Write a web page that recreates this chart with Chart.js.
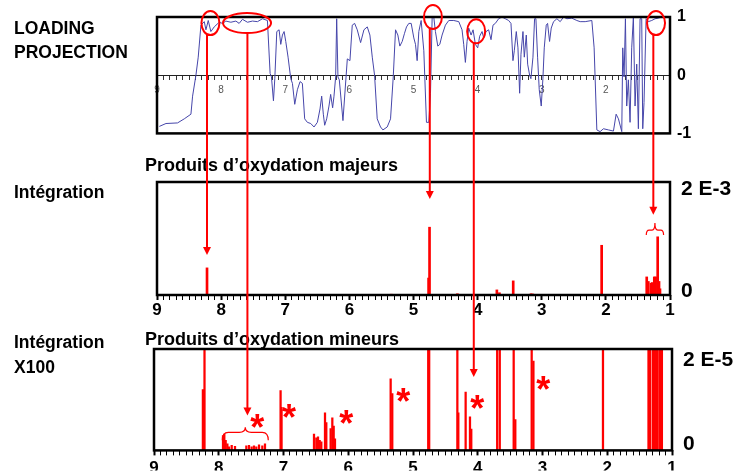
<!DOCTYPE html>
<html>
<head>
<meta charset="utf-8">
<script src="https://cdn.jsdelivr.net/npm/chart.js@4.4.1/dist/chart.umd.min.js"></script>
<style>
  html, body { margin: 0; padding: 0; background: #fff; }
  #wrap { position: relative; width: 742px; height: 474px; overflow: hidden;
          font-family: "Liberation Sans", Arial, sans-serif; font-weight: bold; color: #000; }
  #wrap canvas { position: absolute; left: 0; }
  .lbl { position: absolute; white-space: nowrap; line-height: 1; }
  .side { font-size: 17.5px; left: 14px; }
  .title { font-size: 18px; left: 145px; }
</style>
</head>
<body>
<div id="wrap">
  <canvas id="c1" width="742" height="150" style="top:0"></canvas>
  <canvas id="c2" width="742" height="170" style="top:150px"></canvas>
  <canvas id="c3" width="742" height="154" style="top:320px"></canvas>

  <div class="lbl side" style="top:20.2px">LOADING</div>
  <div class="lbl side" style="top:43.5px">PROJECTION</div>
  <div class="lbl side" style="top:183.5px">Intégration</div>
  <div class="lbl side" style="top:333.5px">Intégration</div>
  <div class="lbl side" style="top:358.5px">X100</div>
  <div class="lbl title" style="top:155.8px">Produits d’oxydation majeurs</div>
  <div class="lbl title" style="top:330.3px">Produits d’oxydation mineurs</div>

  <canvas id="ov" width="742" height="474" style="top:0"></canvas>
</div>

<script>
// ---- Loading projection (chemical shift in ppm, loading value) ----
const loadingPpm = [
  8.964, 8.86, 8.68, 8.575, 8.471, 8.445, 8.393, 8.357, 8.315, 8.263, 8.237, 8.201, 8.16, 8.108,
  8.03, 7.978, 7.926, 7.848, 7.77, 7.719, 7.667, 7.589, 7.511, 7.433, 7.355, 7.278, 7.236, 7.215,
  7.184, 7.163, 7.132, 7.096, 7.07, 7.044, 7.018, 6.992, 6.956, 6.914, 6.888, 6.852, 6.811, 6.769,
  6.733, 6.697, 6.655, 6.603, 6.551, 6.499, 6.458, 6.432, 6.406, 6.385, 6.354, 6.318, 6.292, 6.261,
  6.24, 6.214, 6.198, 6.178, 6.157, 6.1, 6.032, 5.991, 5.955, 5.918, 5.877, 5.825, 5.773, 5.721,
  5.68, 5.643, 5.607, 5.566, 5.514, 5.477, 5.41, 5.358, 5.316, 5.28, 5.244, 5.213, 5.176, 5.14,
  5.109, 5.073, 5.036, 4.995, 4.969, 4.943, 4.917, 4.881, 4.839, 4.798, 4.761, 4.735, 4.709, 4.684,
  4.658, 4.621, 4.59, 4.554, 4.502, 4.45, 4.372, 4.294, 4.243, 4.217, 4.191, 4.165, 4.139, 4.102,
  4.071, 4.035, 3.999, 3.968, 3.931, 3.905, 3.869, 3.828, 3.791, 3.76, 3.724, 3.672, 3.62, 3.568,
  3.516, 3.48, 3.449, 3.428, 3.397, 3.371, 3.345, 3.324, 3.293, 3.272, 3.241, 3.22, 3.189, 3.169,
  3.137, 3.112, 3.091, 3.065, 3.039, 3.008, 2.982, 2.961, 2.93, 2.909, 2.878, 2.852, 2.816, 2.764,
  2.712, 2.66, 2.608, 2.53, 2.453, 2.401, 2.323, 2.219, 2.183, 2.141, 2.09, 2.038, 1.96, 1.882,
  1.84, 1.804, 1.752, 1.737, 1.716, 1.695, 1.675, 1.649, 1.623, 1.597, 1.571, 1.545, 1.519, 1.493,
  1.467, 1.441, 1.425, 1.405, 1.373, 1.337, 1.285, 1.233, 1.184, 1.129
];
const loadingValues = [
  -0.88, -0.83, -0.82, -0.75, -0.67, -0.36, 0, 0.31, 0.86, 0.92, 0.78, 0.94, 0.75, 0.83,
  0.91, 0.89, 0.93, 0.91, 0.93, 0.89, 0.96, 0.91, 0.93, 0.92, 0.97, 0.94, 0.03, -0.03,
  -0.44, -0.06, 0.75, 0.78, 0.53, 0.69, 0.75, 0.58, 0.31, -0.06, -0.14, -0.5, -0.25, -0.11,
  -0.14, -0.75, -0.81, -0.83, -0.89, -0.81, -0.58, -0.36, -0.67, -0.86, -0.75, -0.53, -0.33, -0.56,
  -0.36, -0.03, 0.97, -0.03, -0.08, -0.78, 0.28, 0.25, 0.86, 0.89, 0.78, 0.56, 0.78, 0.83,
  0.69, 0.31, 0, -0.75, -0.89, -0.94, -0.89, -0.75, -0.03, 0.78, 0.69, 0.5, 0.58, 0.72,
  0.83, 0.89, 0.89, 0.64, 0.53, 0.25, 0.75, 0.94, 0.42, -0.81, -0.81, -0.31, 1.0, 1.0,
  0.75, 0.5, 0.53, 0.69, 0.86, 0.94, 0.94, 0.92, 0.78, 0.53, 0.22, 0.58, 0.81, 0.69,
  0.78, 0.53, 0.47, 0.67, 0.75, 0.64, 0.75, 0.78, 0.61, 0.86, 0.89, 0.97, 1.0, 0.97,
  0.94, 0.89, 0.25, 0.42, 0.75, 0.47, -0.31, 0.36, 0.75, 0.31, 0.69, 0.19, 0, -0.06,
  0.31, 0.97, 0.97, 0.31, -0.25, -0.53, -0.06, 0.47, 0.86, 0.89, 0.58, 0.81, 0.92, 0.97,
  0.92, 1.0, 0.97, 0.98, 0.94, 0.92, 0.92, 0.94, 0.47, -0.94, -0.97, -0.92, -0.94, -0.96,
  -0.67, -0.75, -0.97, 0.47, -0.03, 0.97, -0.53, -0.08, -0.81, 0.47, 1.0, -0.53, 0.19, -0.92,
  0.97, 0.97, -0.92, -0.47, 0.97, 0.92, 0.94, 0.97, 0.98, 1.0
];

// ---- Integrated signals (ppm, intensity in units of 1E-5) ----
const integralPpm = [
  8.245, 8.22, 7.934, 7.914, 7.893, 7.867, 7.842, 7.8, 7.749, 7.574, 7.533, 7.492, 7.456, 7.42,
  7.378, 7.327, 7.286, 7.045, 7.03, 6.529, 6.493, 6.467, 6.441, 6.416, 6.359, 6.339, 6.272, 6.246,
  6.225, 6.205, 5.345, 5.32, 4.765, 4.75, 4.315, 4.3, 4.187, 4.12, 4.1, 3.7, 3.66, 3.445, 3.42,
  3.167, 3.14, 2.066, 1.363, 1.338, 1.296, 1.276, 1.245, 1.224, 1.192, 1.171, 1.156
];
const integralValues = [
  1.2, 48, 0.29, 0.32, 0.2, 0.13, 0.07, 0.1, 0.08, 0.09, 0.1, 0.07, 0.09, 0.07,
  0.11, 0.09, 0.13, 1.18, 0.85, 0.32, 0.25, 0.27, 0.2, 0.17, 0.74, 0.55, 0.43, 0.64,
  0.48, 0.23, 1.41, 1.12, 30, 120, 2.2, 0.74, 1.15, 0.66, 0.42, 9, 4, 25, 0.61,
  2.2, 1.76, 88, 32, 24, 21, 22, 32, 32, 103, 24, 11
];

// ---- Axis ticks and labels ----
const ppmTicks = [9, 8, 7, 6, 5, 4, 3, 2, 1];
const ppmLabels = ['9', '8', '7', '6', '5', '4', '3', '2', '1'];
const loadingTicks = [-1, 0, 1];
const loadingLabels = ['-1', '0', '1'];
const majorTicks = [0, 2];
const majorLabels = ['0', '2 E-3'];
const minorTicks = [0, 2];
const minorLabels = ['0', '2 E-5'];

// ---- Annotations ----
const starPpm = [7.405, 6.915, 6.03, 5.15, 4.007, 2.988];
const starValues = [0.61, 0.80, 0.69, 1.12, 0.99, 1.36];
const callouts = [
  { ppm: 8.167, loading: 0.895, rx: 9,  ry: 12, arrowPpm: 8.22, panel: 2, tip: 71 },
  { ppm: 7.596, loading: 0.895, rx: 24, ry: 10, arrowPpm: 7.59, panel: 3, tip: 0.69 },
  { ppm: 4.697, loading: 1.0,   rx: 9,  ry: 12, arrowPpm: 4.746, panel: 2, tip: 170 },
  { ppm: 4.023, loading: 0.755, rx: 9,  ry: 12, arrowPpm: 4.06, panel: 3, tip: 1.45 },
  { ppm: 1.218, loading: 0.895, rx: 9,  ry: 12, arrowPpm: 1.26, panel: 2, tip: 142 }
];

const RED = '#ff0000';
const FONT = '"Liberation Sans", Arial, sans-serif';
const isWhole = v => Math.abs(v - Math.round(v)) < 1e-6;
const ppmLabel = v => {
  if (!isWhole(v)) return '';
  const i = ppmTicks.indexOf(Math.round(v));
  return i < 0 ? '' : ppmLabels[i];
};
const integralPoints = integralPpm.map((p, i) => ({ x: p, y: integralValues[i] }));

// Frame around each plotting area
const framePlugin = {
  id: 'frame',
  afterDraw(chart) {
    const a = chart.chartArea, ctx = chart.ctx;
    ctx.save();
    ctx.strokeStyle = '#000';
    ctx.lineWidth = 2.5;
    ctx.strokeRect(a.left, a.top, a.right - a.left, a.bottom - a.top);
    ctx.restore();
  }
};

// Braces and asterisks placed in data coordinates
const notesPlugin = {
  id: 'notes',
  afterDraw(chart, args, opts) {
    const ctx = chart.ctx, sx = chart.scales.x, sy = chart.scales.y;
    ctx.save();
    ctx.strokeStyle = RED;
    ctx.fillStyle = RED;
    ctx.lineWidth = 1.2;
    (opts.braces || []).forEach(b => {
      const x1 = sx.getPixelForValue(b.from), x2 = sx.getPixelForValue(b.to);
      const y = sy.getPixelForValue(b.value), xm = (x1 + x2) / 2;
      const r = Math.min(6, (x2 - x1) / 6);
      ctx.beginPath();
      ctx.moveTo(x1, y + b.drop);
      ctx.quadraticCurveTo(x1, y, x1 + r, y);
      ctx.lineTo(xm - r, y);
      ctx.quadraticCurveTo(xm, y, xm, y - b.rise);
      ctx.quadraticCurveTo(xm, y, xm + r, y);
      ctx.lineTo(x2 - r, y);
      ctx.quadraticCurveTo(x2, y, x2, y + b.drop);
      ctx.stroke();
    });
    if (opts.stars) {
      const size = 36;
      ctx.font = 'bold ' + size + 'px ' + FONT;
      ctx.textAlign = 'center';
      ctx.textBaseline = 'alphabetic';
      opts.stars.ppm.forEach((p, i) => {
        ctx.fillText('*', sx.getPixelForValue(p), sy.getPixelForValue(opts.stars.values[i]) + 0.57 * size);
      });
    }
    ctx.restore();
  }
};

Chart.defaults.font.family = FONT;
Chart.defaults.color = '#000';

function ppmAxis(extra, pad) {
  return Object.assign({
    type: 'linear', reverse: true, min: 1, max: 9, offset: false,
    ticks: { stepSize: 0.1, autoSkip: false, maxRotation: 0, callback: ppmLabel,
             font: { size: 17, weight: 'bold' }, color: '#000', padding: pad },
    grid: { drawOnChartArea: false, offset: false, tickLength: 5, color: '#000',
            tickWidth: ctx => (ctx.tick && isWhole(ctx.tick.value)) ? 2 : 1 },
    border: { display: false }
  }, extra);
}

function labelAxis(ticks, labels, min, max, width) {
  return {
    axis: 'y', position: 'right', min: min, max: max,
    afterBuildTicks: s => { s.ticks = ticks.map(v => ({ value: v })); },
    afterFit: s => { s.width = width; },
    ticks: { callback: v => labels[ticks.indexOf(v)], font: { size: 21, weight: 'bold' },
             color: '#000', padding: 11 },
    grid: { display: false, drawTicks: false },
    border: { display: false }
  };
}

const common = { responsive: false, animation: false, devicePixelRatio: 1,
                 events: [] };

// ---- Panel 1: loading projection ----
const chart1 = new Chart(document.getElementById('c1'), {
  type: 'line',
  data: { datasets: [{
    data: loadingPpm.map((p, i) => ({ x: p, y: loadingValues[i] })),
    borderColor: '#4646aa', borderWidth: 1, pointRadius: 0, tension: 0, fill: false
  }] },
  options: Object.assign({}, common, {
    layout: { padding: { left: 157, top: 17, bottom: 13, right: 0 } },
    plugins: { legend: { display: false }, tooltip: { enabled: false } },
    scales: {
      x: {
        type: 'linear', reverse: true, min: 1, max: 9, position: { y: 0 },
        ticks: { stepSize: 0.1, autoSkip: false, maxRotation: 0,
                 callback: v => (Math.round(v) === 1 ? '' : ppmLabel(v)),
                 font: { size: 10 }, color: '#555', padding: 5 },
        grid: { drawOnChartArea: false, tickLength: 4, color: '#333' },
        border: { display: true, color: '#222', width: 1 }
      },
      y: {
        position: 'right', min: -1, max: 1,
        afterBuildTicks: s => { s.ticks = loadingTicks.map(v => ({ value: v })); },
        afterFit: s => { s.width = 72; },
        ticks: { callback: v => loadingLabels[loadingTicks.indexOf(v)],
                 font: { size: 16, weight: 'bold' }, color: '#000', padding: 7 },
        grid: { display: false, drawTicks: false },
        border: { display: false }
      }
    }
  }),
  plugins: [framePlugin]
});

// ---- Panel 2: major oxidation products ----
const chart2 = new Chart(document.getElementById('c2'), {
  type: 'bar',
  data: { datasets: [{ data: integralPoints, backgroundColor: RED, barThickness: 2 }] },
  options: Object.assign({}, common, {
    layout: { padding: { left: 157, top: 32, bottom: 0, right: 0 } },
    plugins: { legend: { display: false }, tooltip: { enabled: false },
               notes: { braces: [{ from: 1.37, to: 1.10, value: 115, drop: 5, rise: 7 }] } },
    scales: {
      x: ppmAxis({ afterFit: s => { s.height = 25; } }, 0),
      y: { display: false, min: 0, max: 200 },
      yl: labelAxis(majorTicks, majorLabels, -0.0643, 2.136, 72)
    }
  }),
  plugins: [framePlugin, notesPlugin]
});

// ---- Panel 3: minor oxidation products (x100) ----
const chart3 = new Chart(document.getElementById('c3'), {
  type: 'bar',
  data: { datasets: [{ data: integralPoints, backgroundColor: RED, barThickness: 1.6 }] },
  options: Object.assign({}, common, {
    layout: { padding: { left: 154, top: 29, bottom: 0, right: 0 } },
    plugins: { legend: { display: false }, tooltip: { enabled: false },
               notes: { braces: [{ from: 7.945, to: 7.235, value: 0.357, drop: 8, rise: 5 }],
                        stars: { ppm: starPpm, values: starValues } } },
    scales: {
      x: ppmAxis({ afterFit: s => { s.height = 20; } }, 3),
      y: { display: false, min: 0, max: 2 },
      yl: labelAxis(minorTicks, minorLabels, -0.1379, 2.276, 70)
    }
  }),
  plugins: [framePlugin, notesPlugin]
});

// ---- Red call-outs linking the loading curve to the integrated signals ----
(function drawCallouts() {
  const ctx = document.getElementById('ov').getContext('2d');
  const sx = chart1.scales.x, sy = chart1.scales.y;
  const panels = { 2: { chart: chart2, top: 150 }, 3: { chart: chart3, top: 320 } };
  ctx.strokeStyle = RED;
  ctx.fillStyle = RED;
  ctx.lineWidth = 2;
  callouts.forEach(c => {
    const cx = sx.getPixelForValue(c.ppm), cy = sy.getPixelForValue(c.loading);
    ctx.beginPath();
    ctx.ellipse(cx, cy, c.rx, c.ry, 0, 0, Math.PI * 2);
    ctx.stroke();

    const ax = sx.getPixelForValue(c.arrowPpm);
    const d = (ax - cx) / c.rx;
    const y0 = cy + c.ry * Math.sqrt(Math.max(0, 1 - d * d));
    const p = panels[c.panel];
    const tipY = p.chart.scales.y.getPixelForValue(c.tip) + p.top;
    const head = 8;
    ctx.beginPath();
    ctx.moveTo(ax, y0);
    ctx.lineTo(ax, tipY - head + 1);
    ctx.stroke();
    ctx.beginPath();
    ctx.moveTo(ax - 4, tipY - head);
    ctx.lineTo(ax + 4, tipY - head);
    ctx.lineTo(ax, tipY);
    ctx.closePath();
    ctx.fill();
  });
})();
</script>
</body>
</html>
